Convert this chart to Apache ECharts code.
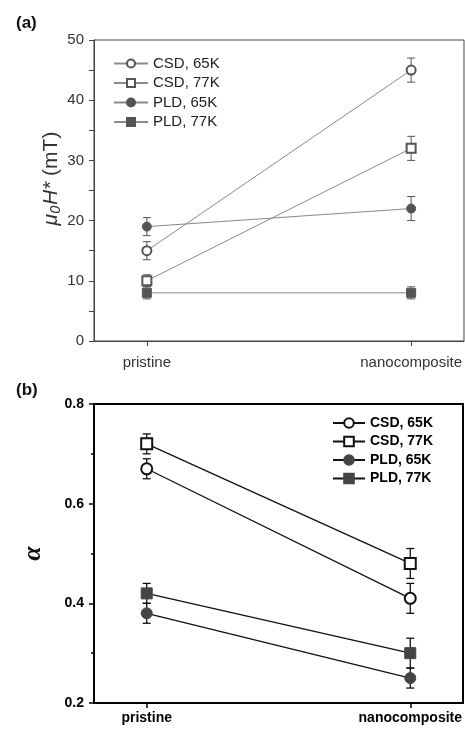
<!DOCTYPE html>
<html>
<head>
<meta charset="utf-8">
<script src="https://cdn.jsdelivr.net/npm/echarts@6/dist/echarts.min.js"></script>
<style>
html,body{margin:0;padding:0;background:#fff;}
#chart{width:465px;height:737px;}
</style>
</head>
<body>
<div id="chart"></div>
<script>
// ---- data ----
const categories = ['pristine', 'nanocomposite'];
const seriesNames = ['CSD, 65K', 'CSD, 77K', 'PLD, 65K', 'PLD, 77K'];
const seriesSymbols = ['emptyCircle', 'emptyRect', 'circle', 'rect'];

// panel (a): mu0 H* (mT)
const hCsd65 = [15, 45];
const hCsd65Err = [1.5, 2];
const hCsd77 = [10, 32];
const hCsd77Err = [1, 2];
const hPld65 = [19, 22];
const hPld65Err = [1.5, 2];
const hPld77 = [8, 8];
const hPld77Err = [1, 1];

// panel (b): alpha
const aCsd65 = [0.67, 0.41];
const aCsd65Err = [0.02, 0.03];
const aCsd77 = [0.72, 0.48];
const aCsd77Err = [0.02, 0.03];
const aPld65 = [0.38, 0.25];
const aPld65Err = [0.02, 0.02];
const aPld77 = [0.42, 0.30];
const aPld77Err = [0.02, 0.03];

const catIdx = [0, 1];

// ---- build ----
const chart = echarts.init(document.getElementById('chart'), null, {renderer: 'canvas'});
const FONT = 'Liberation Sans, Arial, sans-serif';

function lineSeries(prefix, name, symbol, values, xi, yi, lineColor, markColor, lw, size) {
  return {
    type: 'line', name: prefix + name, xAxisIndex: xi, yAxisIndex: yi,
    data: values.map((v, i) => [catIdx[i], v]),
    symbol: symbol, symbolSize: size, showAllSymbol: true,
    lineStyle: {color: lineColor, width: lw},
    itemStyle: {color: markColor, borderColor: markColor, borderWidth: 1, opacity: 1},
    z: 3, animation: false, silent: true
  };
}
function errSeries(key, values, errs, xi, yi, color, lw) {
  return {
    type: 'custom', name: 'err-' + key, xAxisIndex: xi, yAxisIndex: yi, z: 1,
    animation: false, silent: true,
    data: values.map((v, i) => [catIdx[i], v - errs[i], v + errs[i]]),
    encode: {x: 0, y: [1, 2]},
    renderItem: function (params, api) {
      const lo = api.coord([api.value(0), api.value(1)]);
      const hi = api.coord([api.value(0), api.value(2)]);
      const cap = 4;
      const st = {stroke: color, lineWidth: lw};
      return {type: 'group', children: [
        {type: 'line', shape: {x1: lo[0], y1: lo[1], x2: hi[0], y2: hi[1]}, style: st},
        {type: 'line', shape: {x1: lo[0] - cap, y1: lo[1], x2: lo[0] + cap, y2: lo[1]}, style: st},
        {type: 'line', shape: {x1: hi[0] - cap, y1: hi[1], x2: hi[0] + cap, y2: hi[1]}, style: st}
      ]};
    }
  };
}

const hVals = [hCsd65, hCsd77, hPld65, hPld77];
const hErrs = [hCsd65Err, hCsd77Err, hPld65Err, hPld77Err];
const aVals = [aCsd65, aCsd77, aPld65, aPld77];
const aErrs = [aCsd65Err, aCsd77Err, aPld65Err, aPld77Err];

const series = [];
seriesNames.forEach((n, k) => {
  series.push(errSeries('a' + k, hVals[k], hErrs[k], 0, 0, '#555', 1));
  series.push(lineSeries('a:', n, seriesSymbols[k], hVals[k], 0, 0, '#8a8a8a', '#555', 1, 9));
});
seriesNames.forEach((n, k) => {
  series.push(errSeries('b' + k, aVals[k], aErrs[k], 1, 1, '#111', 1.3));
  series.push(lineSeries('b:', n, seriesSymbols[k], aVals[k], 1, 1, '#111', k < 2 ? '#111' : '#444', 1.3, 11));
});

const option = {
  backgroundColor: '#fff',
  animation: false,
  title: [
    {text: '(a)', left: 11, top: 10, textStyle: {fontFamily: FONT, fontWeight: 'bold', fontSize: 17, color: '#111'}},
    {text: '(b)', left: 11, top: 377, textStyle: {fontFamily: FONT, fontWeight: 'bold', fontSize: 17, color: '#111'}}
  ],
  grid: [
    {left: 94, top: 40, width: 373, height: 301, show: true, borderColor: '#444', borderWidth: 1, backgroundColor: 'transparent'},
    {left: 94, top: 404, width: 371, height: 299, show: true, borderColor: '#000', borderWidth: 2, backgroundColor: 'transparent'}
  ],
  xAxis: [
    {type: 'value', gridIndex: 0, min: -0.2, max: 1.2,
      axisLine: {show: true, onZero: false, lineStyle: {color: '#444', width: 1}},
      axisTick: {show: true, customValues: catIdx, length: 5, inside: false, lineStyle: {color: '#444'}},
      axisLabel: {customValues: catIdx, formatter: v => categories[Math.round(v)], margin: 14,
        fontFamily: FONT, fontSize: 15, color: '#333'},
      splitLine: {show: false}},
    {type: 'value', gridIndex: 1, min: -0.2, max: 1.2,
      axisLine: {show: true, onZero: false, lineStyle: {color: '#000', width: 2}},
      axisTick: {show: true, customValues: catIdx, length: 5, inside: false, lineStyle: {color: '#000', width: 1.5}},
      axisLabel: {customValues: catIdx, formatter: v => categories[Math.round(v)], margin: 8,
        fontFamily: FONT, fontSize: 14, fontWeight: 'bold', color: '#000'},
      splitLine: {show: false}}
  ],
  yAxis: [
    {type: 'value', gridIndex: 0, min: 0, max: 50, interval: 10,
      name: '{i|μ₀H*} {n|(mT)}', nameLocation: 'middle', nameGap: 32, nameRotate: 90, nameMoveOverlap: false,
      nameTextStyle: {fontFamily: FONT, fontSize: 21, color: '#333', padding: [0, 0, 0, 24],
        rich: {i: {fontFamily: FONT, fontSize: 21, fontStyle: 'italic', color: '#333'},
               n: {fontFamily: FONT, fontSize: 21, color: '#333'}}},
      axisLine: {show: true, onZero: false, lineStyle: {color: '#444', width: 1}},
      axisTick: {show: true, length: 5, lineStyle: {color: '#444'}},
      minorTick: {show: true, splitNumber: 2, length: 5, lineStyle: {color: '#444'}},
      axisLabel: {margin: 10, fontFamily: FONT, fontSize: 15, color: '#333'},
      splitLine: {show: false}},
    {type: 'value', gridIndex: 1, min: 0.2, max: 0.8, interval: 0.2,
      name: 'α', nameLocation: 'middle', nameGap: 48, nameRotate: 90, nameMoveOverlap: false,
      nameTextStyle: {fontFamily: 'Liberation Serif, serif', fontSize: 26, fontStyle: 'italic', fontWeight: 'bold', color: '#111'},
      axisLine: {show: true, onZero: false, lineStyle: {color: '#000', width: 2}},
      axisTick: {show: true, length: 5, lineStyle: {color: '#000', width: 1.5}},
      minorTick: {show: true, splitNumber: 2, length: 3, lineStyle: {color: '#000', width: 1.5}},
      axisLabel: {margin: 10, fontFamily: FONT, fontSize: 14, fontWeight: 'bold', color: '#000',
        formatter: v => v.toFixed(1)},
      splitLine: {show: false}}
  ],
  legend: [
    {orient: 'vertical', left: 113, top: 56, padding: 0, itemWidth: 34, itemHeight: 10, itemGap: 4.5,
      data: seriesNames.map(n => 'a:' + n), formatter: n => n.slice(2),
      selectedMode: false,
      textStyle: {fontFamily: FONT, fontSize: 15, color: '#222'}},
    {orient: 'vertical', left: 332, top: 416, padding: 0, itemWidth: 32, itemHeight: 12, itemGap: 4.5,
      data: seriesNames.map(n => 'b:' + n), formatter: n => n.slice(2),
      selectedMode: false,
      textStyle: {fontFamily: FONT, fontSize: 14, fontWeight: 'bold', color: '#000'}}
  ],
  series: series
};
chart.setOption(option);
</script>
</body>
</html>
